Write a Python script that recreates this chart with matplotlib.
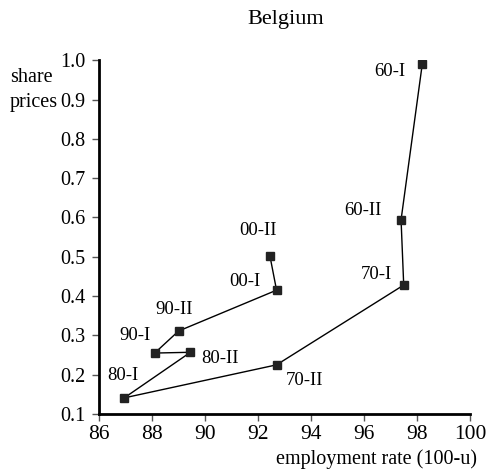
import matplotlib
matplotlib.use('Agg')
import matplotlib.pyplot as plt

# dados
employment = [98.2, 97.4, 97.5, 92.7, 86.95, 89.45, 88.1, 89.0, 92.7, 92.45]
share_prices = [0.99, 0.594, 0.428, 0.225, 0.141, 0.257, 0.255, 0.311, 0.415, 0.502]
period_labels = ['60-I', '60-II', '70-I', '70-II', '80-I', '80-II', '90-I', '90-II', '00-I', '00-II']

# posições dos rótulos
label_x = [96.98, 95.96, 96.45, 93.77, 86.9, 90.57, 87.36, 88.83, 91.5, 92.0]
label_y = [0.97, 0.617, 0.454, 0.186, 0.199, 0.242, 0.30, 0.365, 0.438, 0.566]

plt.rcParams['font.family'] = ['Liberation Serif', 'DejaVu Serif']

fig = plt.figure(figsize=(4.88, 4.74), dpi=100)
ax = fig.add_axes([0.203, 0.1266, 0.76, 0.7464])

ax.plot(employment, share_prices, color='black', lw=1.0, marker='s',
        markersize=5.5, markerfacecolor='#222222', markeredgecolor='#222222')

for lx, ly, t in zip(label_x, label_y, period_labels):
    ax.text(lx, ly, t, ha='center', va='center', fontsize=13.5)

ax.set_xlim(86, 100)
ax.set_ylim(0.1, 1.0)
ax.set_xticks(range(86, 101, 2))
ax.set_yticks([0.1, 0.2, 0.3, 0.4, 0.5, 0.6, 0.7, 0.8, 0.9, 1.0])
ax.set_yticklabels(['0.1', '0.2', '0.3', '0.4', '0.5', '0.6', '0.7', '0.8', '0.9', '1.0'])
ax.tick_params(axis='y', labelsize=14.5, direction='out', length=5, width=1,
               color='#555555', pad=5)
ax.tick_params(axis='x', labelsize=15.5, direction='out', length=5, width=1,
               color='#555555', pad=3)

for s in ['top', 'right']:
    ax.spines[s].set_visible(False)
for s in ['left', 'bottom']:
    ax.spines[s].set_linewidth(2)

fig.text(0.586, 0.958, 'Belgium', ha='center', va='center', fontsize=16)
fig.text(0.02, 0.81, 'share\nprices', ha='left', va='center', fontsize=14.5, linespacing=1.4)
fig.text(0.977, 0.032, 'employment rate (100-u)', ha='right', va='center', fontsize=14.5)

plt.savefig('out.png', dpi=100)
